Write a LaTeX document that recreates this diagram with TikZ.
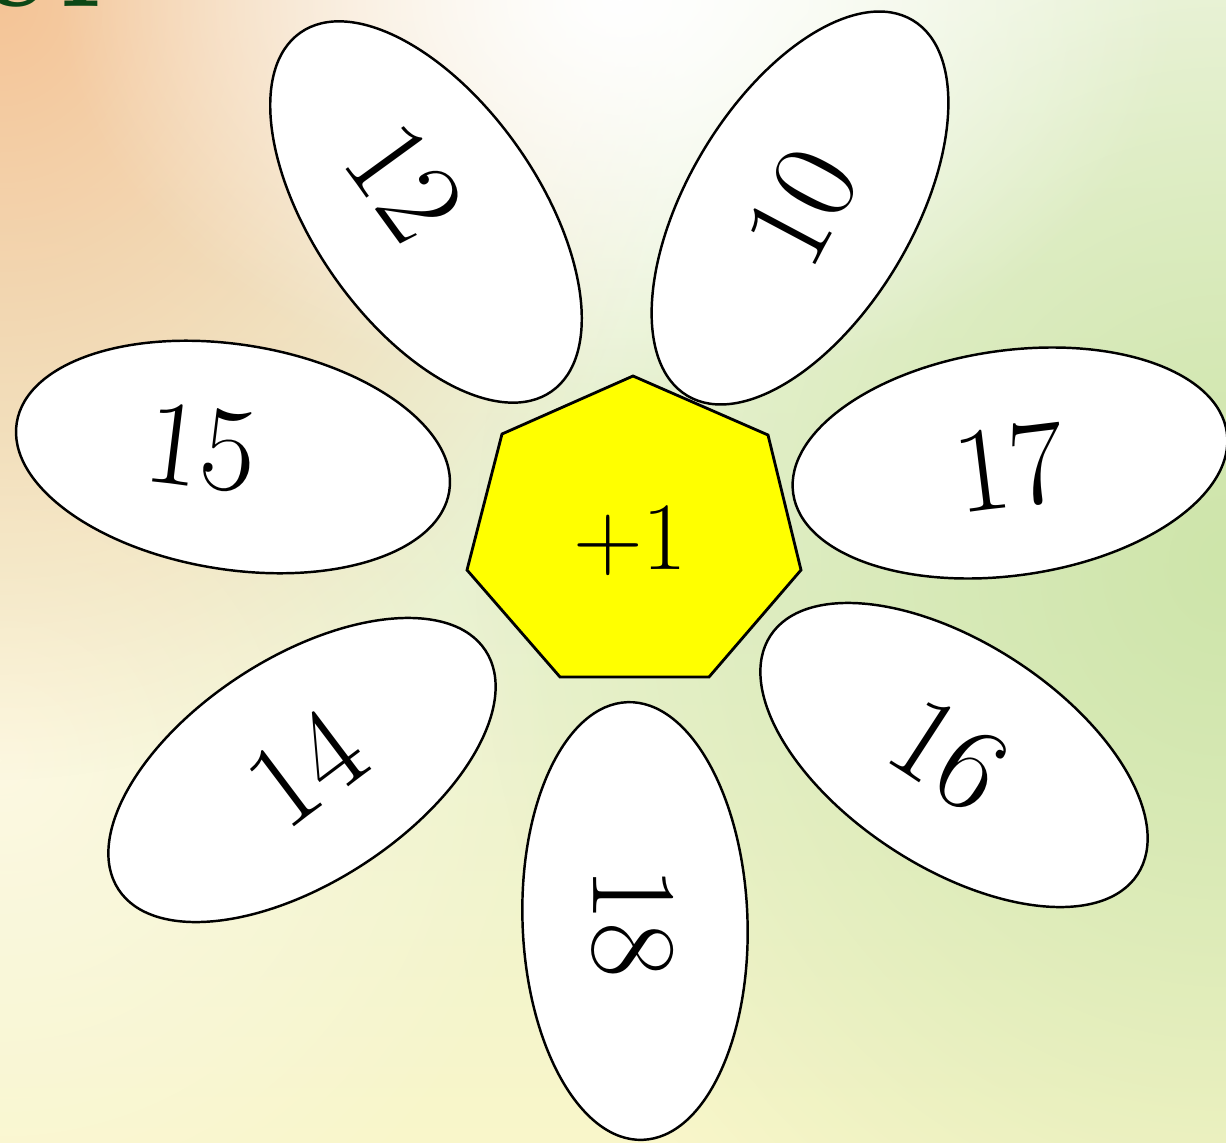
\documentclass[tikz,border=0pt]{standalone}
\usepackage{fontspec}
\usetikzlibrary{shapes.geometric,fadings,shadings}
\definecolor{bgtop}{RGB}{246,249,236}
\definecolor{bgmid}{RGB}{231,241,206}
\definecolor{bgbot}{RGB}{249,246,202}
\definecolor{bgorange}{RGB}{244,196,150}
\definecolor{bggreen}{RGB}{206,229,170}
\definecolor{bgcream}{RGB}{253,249,226}
\definecolor{titlegreen}{RGB}{12,72,22}
\definecolor{heptyellow}{RGB}{255,255,0}
\tikzfading[name=glowfade, inner color=transparent!0, outer color=transparent!100]
\begin{document}
\begin{tikzpicture}[x=0.02cm, y=-0.02cm,
  petal/.style={ellipse, draw=black, fill=white, line width=1.4pt,
    minimum width=8.76cm, minimum height=4.5cm, inner sep=0pt},
  num/.style={font=\fontsize{69}{69}\selectfont, inner sep=0pt},
  centre/.style={draw=black, fill=heptyellow, line width=1.6pt, line join=miter}]
\useasboundingbox (0,0) rectangle (1226,1142);
% background
\shade[top color=bgtop, bottom color=bgmid] (0,0) rectangle (1226,600);
\shade[top color=bgmid, bottom color=bgbot] (0,599) rectangle (1226,1142);
\fill[bggreen, path fading=glowfade] (1226,560) ellipse [x radius=750, y radius=850];
\fill[bgcream, path fading=glowfade] (0,760) ellipse [x radius=560, y radius=560];
\fill[bgorange, path fading=glowfade] (0,0) ellipse [x radius=680, y radius=780];
\fill[white, path fading=glowfade] (620,0) ellipse [x radius=560, y radius=400];
% partly visible title
\node[anchor=base west, inner sep=0pt, text=titlegreen,
  font=\fontsize{72}{72}\selectfont\bfseries] (title) at (-20,7) {e\kern0.12em r};
% petals
\node[petal, rotate=-55] (p12) at (426,212) {};
\node[petal, rotate=59]  (p10) at (800,208) {};
\node[petal, rotate=-9]  (p15) at (233,457) {};
\node[petal, rotate=8]   (p17) at (1010,463) {};
\node[petal, rotate=33]  (p14) at (302,770) {};
\node[petal, rotate=-33] (p16) at (954,755) {};
\node[petal, rotate=92]  (p18) at (635,921) {};
% centre
\draw[centre] (633,376) -- (768,435) -- (801,570) -- (709,677) -- (560,677)
  -- (467,570) -- (502,434) -- cycle;
\node[font=\fontsize{55}{55}\selectfont, inner sep=0pt] (plus) at (630,541) {+1};
% numbers
\node[num, rotate=-54] (t12) at (405,182) {12};
\node[num, rotate=62]  (t10) at (802,207) {10};
\node[num, rotate=-7]  (t15) at (201,448) {15};
\node[num, rotate=7]   (t17) at (1010,467) {17};
\node[num, rotate=37]  (t14) at (306,768) {14};
\node[num, rotate=-33] (t16) at (948,755) {16};
\node[num, rotate=-90] (t18) at (633,922) {18};
\end{tikzpicture}
\end{document}
